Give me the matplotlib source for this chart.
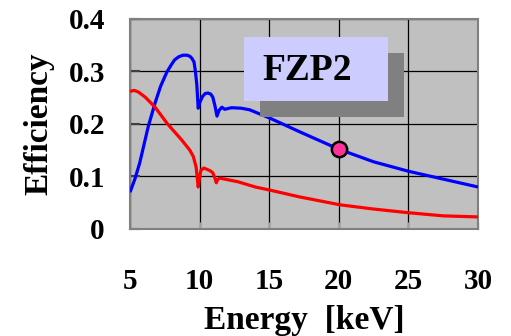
import matplotlib
matplotlib.use("Agg")
import matplotlib.pyplot as plt
from matplotlib.patches import Rectangle

# Diffraction efficiency of zone plate FZP2 versus X-ray energy
energy_1st = [5.0, 5.35, 5.7, 6.0, 6.3, 6.8, 7.2, 7.65, 7.95, 8.2, 8.5, 8.8, 9.1, 9.3,
              9.45, 9.6, 9.7, 9.8, 9.9, 10.0, 10.2, 10.4, 10.6, 10.8, 10.95, 11.1,
              11.25, 11.4, 11.6, 11.8, 12.3, 13.0, 13.6, 15.06, 17.2, 20.0, 22.5,
              25.0, 27.5, 30.0]
eff_1st = [0.070, 0.095, 0.126, 0.160, 0.194, 0.240, 0.272, 0.299, 0.312, 0.322,
           0.328, 0.331, 0.331, 0.329, 0.325, 0.318, 0.300, 0.275, 0.230, 0.240,
           0.252, 0.258, 0.259, 0.257, 0.251, 0.235, 0.215, 0.226, 0.232, 0.228,
           0.231, 0.230, 0.227, 0.211, 0.185, 0.152, 0.128, 0.110, 0.095, 0.080]

energy_2nd = [5.0, 5.3, 5.6, 6.1, 6.8, 7.7, 8.7, 9.3, 9.55, 9.75, 9.9, 10.0, 10.1,
              10.3, 10.5, 10.75, 10.95, 11.1, 11.2, 11.3, 11.45, 11.8, 12.75, 14.0,
              15.06, 17.2, 20.1, 22.5, 25.0, 27.5, 30.0]
eff_2nd = [0.262, 0.264, 0.261, 0.251, 0.232, 0.200, 0.170, 0.150, 0.138, 0.118,
           0.080, 0.100, 0.112, 0.116, 0.114, 0.111, 0.107, 0.097, 0.088, 0.094,
           0.097, 0.095, 0.090, 0.080, 0.074, 0.061, 0.046, 0.038, 0.031, 0.025,
           0.023]

marker_energy = [20.0]
marker_eff = [0.152]

x_ticks = [5, 10, 15, 20, 25, 30]
y_ticks = [0, 0.1, 0.2, 0.3, 0.4]
y_tick_labels = ["0", "0.1", "0.2", "0.3", "0.4"]

plt.rcParams["font.family"] = ["Liberation Serif", "DejaVu Serif"]
plt.rcParams["font.weight"] = "bold"

fig = plt.figure(figsize=(5.11, 3.36), dpi=100)
ax = fig.add_axes([0.2544, 0.3185, 0.6810, 0.6250])
ax.set_facecolor("#C0C0C0")

ax.plot(energy_1st, eff_1st, color="#0000FF", lw=2.3, zorder=3,
        solid_joinstyle="round", solid_capstyle="butt")
ax.plot(energy_2nd, eff_2nd, color="#FF0000", lw=2.3, zorder=3,
        solid_joinstyle="round", solid_capstyle="butt")
ax.plot(marker_energy, marker_eff, "o", ms=11, mfc="#FF3399", mec="black", mew=1.8, zorder=5)

ax.set_xlim(5, 30)
ax.set_ylim(0, 0.4)
ax.set_xticks(x_ticks)
ax.set_yticks(y_ticks)
ax.set_yticklabels(y_tick_labels)
ax.grid(True, color="black", lw=0.9, zorder=1)
ax.set_axisbelow(True)

for s in ax.spines.values():
    s.set_color("#808080")
    s.set_linewidth(1.5)

ax.tick_params(axis="y", direction="in", length=7, width=1.5, color="#404040",
               pad=18, labelsize=21)
ax.tick_params(axis="x", direction="in", length=5, width=1.0, color="#A0A0A0",
               pad=28, labelsize=21)
for lab in ax.get_xticklabels() + ax.get_yticklabels():
    lab.set_fontweight("bold")

ax.set_xlabel("Energy  [keV]", fontsize=24, fontweight="bold", labelpad=7)
ax.set_ylabel("Efficiency", fontsize=24, fontweight="bold", labelpad=10)

# Label box with drop shadow
ax.add_patch(Rectangle((0.3736, 0.5333), 0.4138, 0.3048, transform=ax.transAxes,
                       facecolor="#808080", edgecolor="none", zorder=6))
ax.add_patch(Rectangle((0.3276, 0.6095), 0.4138, 0.3048, transform=ax.transAxes,
                       facecolor="#CCCCFF", edgecolor="none", zorder=7))
ax.text(0.5086, 0.757, "FZP2", transform=ax.transAxes, fontsize=27,
        fontweight="bold", ha="center", va="center", zorder=8)

fig.savefig("out.png", dpi=100)
